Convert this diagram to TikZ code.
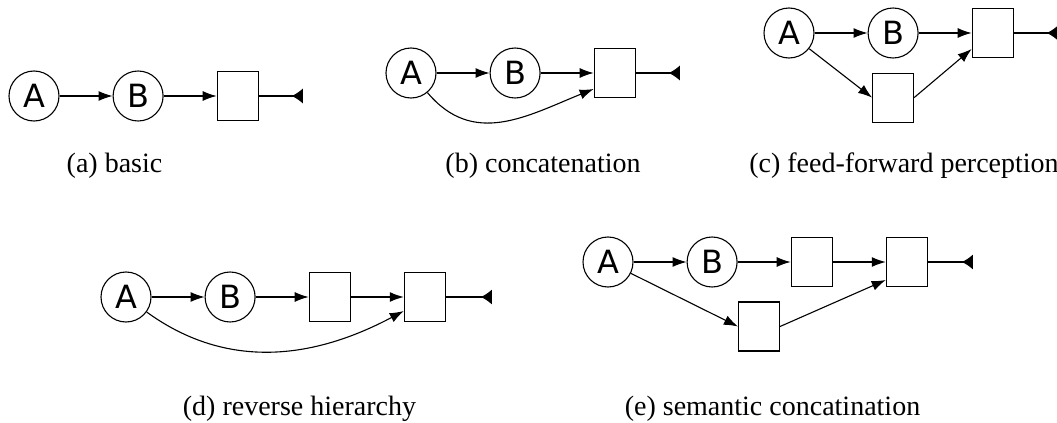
\documentclass[tikz,border=0pt]{standalone}
\usepackage{fontspec}
\setmainfont{Liberation Serif}
\newfontfamily\lettersans{DejaVu Sans}
\usetikzlibrary{arrows.meta,positioning}

\begin{document}
\begin{tikzpicture}[x=0.5pt,y=-0.5pt,node distance=26.5pt,line width=0.55pt,
    unit/.style={draw,circle,minimum size=25pt,inner sep=0pt,font=\lettersans\fontsize{16}{18}\selectfont},
    cell/.style={draw,rectangle,minimum width=20.5pt,minimum height=24.5pt,inner sep=0pt},
    subcap/.style={anchor=base,font=\fontsize{14}{17}\selectfont},
    feed/.style={-{Latex[length=7pt,width=5pt]}},
    readout/.style={-{Latex[reversed,length=5.5pt,width=7.5pt]}}]
    \useasboundingbox (0,0) rectangle (1057,423);

    % (a) basic
    \node[unit] (aA) at (34,96) {A};
    \node[unit,right=of aA] (aB) {B};
    \node[cell,right=of aB] (aC) {};
    \coordinate[right=22pt of aC] (aE);
    \draw[feed] (aA)--(aB);
    \draw[feed] (aB)--(aC);
    \draw[readout] (aC)--(aE);
    \node[subcap] (acap) at (114.5,172) {(a) basic};

    % (b) concatenation
    \node[unit] (bA) at (411,73) {A};
    \node[unit,right=of bA] (bB) {B};
    \node[cell,right=of bB] (bC) {};
    \coordinate[right=22pt of bC] (bE);
    \draw[feed] (bA)--(bB);
    \draw[feed] (bB)--(bC);
    \draw[feed] (bA) to[out=-50,in=202,looseness=1.1] ([yshift=-8pt]bC.west);
    \draw[readout] (bC)--(bE);
    \node[subcap] (bcap) at (543,172) {(b) concatenation};

    % (c) feed-forward perception
    \node[unit] (cA) at (789,33) {A};
    \node[unit,right=of cA] (cB) {B};
    \node[cell,right=of cB] (cC) {};
    \node[cell,below=7pt of cB] (cD) {};
    \coordinate[right=22pt of cC] (cE);
    \draw[feed] (cA)--(cB);
    \draw[feed] (cB)--(cC);
    \draw[feed] (cA)--(cD.west);
    \draw[feed] (cD.east)--([yshift=-8pt]cC.west);
    \draw[readout] (cC)--(cE);
    \node[subcap] (ccap) at (904,172) {(c) feed-forward perception};

    % (d) reverse hierarchy
    \node[unit] (dA) at (126,297) {A};
    \node[unit,right=of dA] (dB) {B};
    \node[cell,right=of dB] (dC) {};
    \node[cell,right=of dC] (dD) {};
    \coordinate[right=23pt of dD] (dE);
    \draw[feed] (dA)--(dB);
    \draw[feed] (dB)--(dC);
    \draw[feed] (dC)--(dD);
    \draw[feed] (dA) to[out=-36,in=208] ([yshift=-7pt]dD.west);
    \draw[readout] (dD)--(dE);
    \node[subcap] (dcap) at (299.5,415) {(d) reverse hierarchy};

    % (e) semantic concatination
    \node[unit] (eA) at (608,262) {A};
    \node[unit,right=of eA] (eB) {B};
    \node[cell,right=of eB] (eC) {};
    \node[cell,right=of eC] (eF) {};
    \node[cell] (eD) at (759,326.5) {};
    \coordinate[right=22.5pt of eF] (eE);
    \draw[feed] (eA)--(eB);
    \draw[feed] (eB)--(eC);
    \draw[feed] (eC)--(eF);
    \draw[feed] (eA)--(eD.west);
    \draw[feed] (eD.east)--([yshift=-9pt]eF.west);
    \draw[readout] (eF)--(eE);
    \node[subcap] (ecap) at (772.5,415) {(e) semantic concatination};
\end{tikzpicture}
\end{document}
